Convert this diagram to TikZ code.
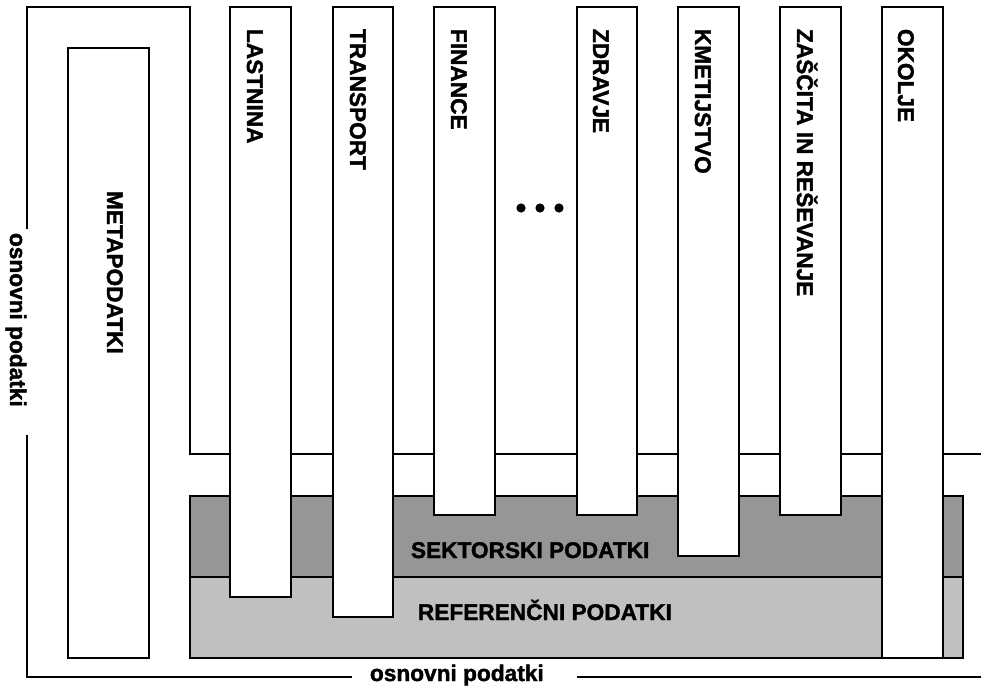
\documentclass[tikz,border=0pt]{standalone}
\usepackage{fontspec}
\setmainfont{Liberation Sans}[BoldFeatures={FakeBold=1.6}]
\definecolor{sektor}{RGB}{150,150,150}
\definecolor{refgray}{RGB}{192,192,192}

\begin{document}
\begin{tikzpicture}[x=0.75pt,y=-0.75pt,line width=1.4pt,
    lbl/.style={font=\bfseries\fontsize{17}{20}\selectfont,inner sep=0pt},
    vlbl/.style={lbl,rotate=-90,anchor=base west}]
    \useasboundingbox (0,0) rectangle (981,685);
    % osnovni podatki frame
    \draw (27,229) -- (27,7) -- (190,7) -- (190,454) -- (981,454);
    \draw (27,435) -- (27,677) -- (352,677);
    \draw (577,677) -- (981,677);
    \draw (68,48) rectangle (149,658);
    % layers
    \filldraw[color=black, fill=refgray] (190,577) rectangle (963,658);
    \filldraw[color=black, fill=sektor] (190,496) rectangle (963,577);
    % sectors
    \filldraw[color=black, fill=white] (230,7) rectangle (291,597);
    \filldraw[color=black, fill=white] (333,7) rectangle (393,617);
    \filldraw[color=black, fill=white] (434,7) rectangle (495,515);
    \filldraw[color=black, fill=white] (577,7) rectangle (637,515);
    \filldraw[color=black, fill=white] (678,7) rectangle (739,556);
    \filldraw[color=black, fill=white] (780,7) rectangle (841,515);
    \filldraw[color=black, fill=white] (882,7) rectangle (943,658);
    \fill (521,208) circle (4.6);
    \fill (540,208) circle (4.6);
    \fill (559,208) circle (4.6);
    % labels
    \node[vlbl] (meta) at (107,190) {METAPODATKI};
    \node[vlbl] (lastnina) at (247,28) {LASTNINA};
    \node[vlbl] (transport) at (350,28) {TRANSPORT};
    \node[vlbl] (finance) at (451,28) {FINANCE};
    \node[vlbl] (zdravje) at (593,28) {ZDRAVJE};
    \node[vlbl] (kmet) at (695,28) {KMETIJSTVO};
    \node[vlbl] (zascita) at (797,28) {ZAŠČITA IN REŠEVANJE};
    \node[vlbl] (okolje) at (898,28) {OKOLJE};
    \node[vlbl] (osnL) at (10,232) {osnovni podatki};
    \node[lbl,anchor=base west] (osnB) at (369,681) {osnovni podatki};
    \node[lbl,anchor=base west] (sektorski) at (410,558) {SEKTORSKI PODATKI};
    \node[lbl,anchor=base west] (referencni) at (417,620) {REFERENČNI PODATKI};
\end{tikzpicture}
\end{document}
